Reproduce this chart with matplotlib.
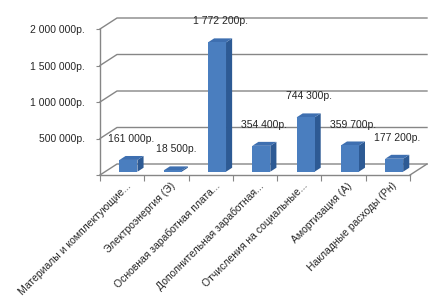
import numpy as np
import matplotlib
matplotlib.use("Agg")
import matplotlib.pyplot as plt
from matplotlib.patches import Polygon

plt.rcParams['font.family'] = ['Liberation Sans', 'DejaVu Sans']

categories = ['Материалы и комплектующие...', 'Электроэнергия (Э)',
              'Основная заработная плата...', 'Дополнительная заработная...',
              'Отчисления на социальные...', 'Амортизация (А)',
              'Накладные расходы (Рн)']
values = [161000, 18500, 1772200, 354400, 744300, 359700, 177200]
yticks = [0, 500000, 1000000, 1500000, 2000000]


def rub(v):
    return f"{v:,.0f}".replace(',', ' ') + 'р.'


W, H = 445, 307
fig = plt.figure(figsize=(W / 100, H / 100), dpi=100)
# front plane of the 3D box in pixels: x 100..410, y 175..29 (from top)
ax = fig.add_axes([100 / W, (H - 175) / H, 310 / W, 146 / H])
n = len(values)
ax.set_xlim(-0.5, n - 0.5)
ax.set_ylim(0, 2000000)

px_x = (n) / 310.0          # data units per pixel, x
px_y = 2000000 / 146.0      # data units per pixel, y
DX, DY = 17 * px_x, 11 * px_y   # wall depth

grid_c = '#868686'
# back wall gridlines with diagonals to the front axis
for v in yticks:
    ax.plot([-0.5, -0.5 + DX, n - 0.5 + DX], [v, v + DY, v + DY],
            color=grid_c, lw=1, clip_on=False, zorder=1)
ax.plot([n - 0.5, n - 0.5 + DX], [0, DY], color=grid_c, lw=1,
        clip_on=False, zorder=1)

# pseudo-3D bars
f0, f1 = 0.30, 0.66
bw = 18 * px_x
front_c, side_c, top_c = '#4a7ebf', '#2d5a94', '#3e6fb0'
for i, v in enumerate(values):
    x0 = i - bw / 2 + f0 * DX + 1.2 * px_x
    y0 = f0 * DY
    x1 = x0 + bw
    y1 = v + y0
    ox, oy = (f1 - f0) * DX, (f1 - f0) * DY
    ax.add_patch(Polygon([(x1, y0), (x1 + ox, y0 + oy), (x1 + ox, y1 + oy), (x1, y1)],
                         closed=True, fc=side_c, ec='none', clip_on=False, zorder=3))
    ax.add_patch(Polygon([(x0, y1), (x1, y1), (x1 + ox, y1 + oy), (x0 + ox, y1 + oy)],
                         closed=True, fc=top_c, ec='none', clip_on=False, zorder=3))
    ax.add_patch(Polygon([(x0, y0), (x1, y0), (x1, y1), (x0, y1)],
                         closed=True, fc=front_c, ec='none', clip_on=False, zorder=4))
    ax.annotate(rub(v), (x0 + bw / 2 + ox / 2, y1 + oy / 2), xytext=(0, 10),
                textcoords='offset points', ha='center', va='bottom',
                fontsize=7.5, color='#262626', zorder=5, annotation_clip=False)

for s in ['top', 'right']:
    ax.spines[s].set_visible(False)
for s in ['left', 'bottom']:
    ax.spines[s].set_color(grid_c)
    ax.spines[s].set_linewidth(1)

ax.set_yticks(yticks)
ax.set_yticklabels([''] + [rub(v) for v in yticks[1:]])
ax.tick_params(axis='y', length=3, color=grid_c, labelsize=7.5,
               labelcolor='#262626', pad=8)

ax.set_xticks(np.arange(-0.5, n, 1.0))
ax.set_xticklabels([])
ax.tick_params(axis='x', which='major', length=4, color=grid_c)
ax.set_xticks(np.arange(n) + 0.08, minor=True)
ax.set_xticklabels(categories, minor=True, rotation=45, ha='right',
                   rotation_mode='anchor', fontsize=7.5, color='#262626')
ax.tick_params(axis='x', which='minor', length=0, pad=4)

fig.savefig('out.png', dpi=100)
